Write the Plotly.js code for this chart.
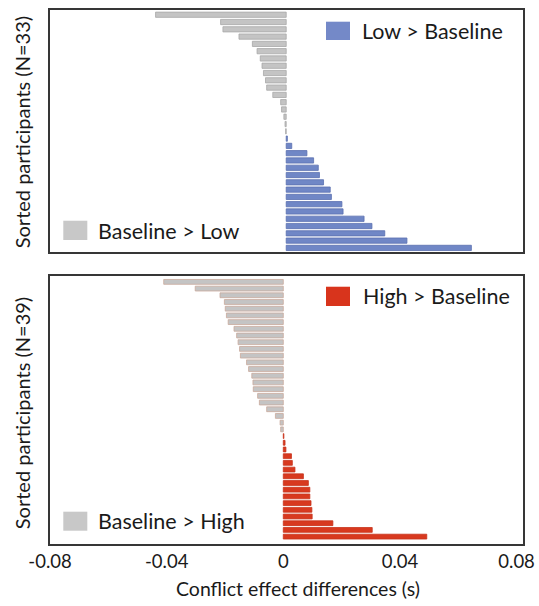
<!DOCTYPE html>
<html>
<head>
<meta charset="utf-8">
<script src="https://cdn.plot.ly/plotly-3.0.1.min.js"></script>
<style>html,body{margin:0;padding:0;background:#fff;}#chart{width:539px;height:606px;}</style>
</head>
<body>
<div id="chart"></div>
<script>
// Sorted conflict-effect differences (s), top to bottom
const lowDiff = [-0.0448, -0.0225, -0.0217, -0.0162, -0.0116, -0.0100, -0.0089, -0.0083, -0.0078, -0.0071,
  -0.0067, -0.0046, -0.0019, -0.0016, -0.0008, -0.0004, -0.0002, 0.0004, 0.0019, 0.0071,
  0.0094, 0.0110, 0.0114, 0.0128, 0.0151, 0.0155, 0.0191, 0.0195, 0.0267, 0.0294,
  0.0338, 0.0414, 0.0635];
const highDiff = [-0.0410, -0.0302, -0.0217, -0.0202, -0.0199, -0.0195, -0.0189, -0.0169, -0.0160, -0.0155,
  -0.0150, -0.0147, -0.0126, -0.0119, -0.0108, -0.0104, -0.0103, -0.0088, -0.0082, -0.0057,
  -0.0027, -0.0011, -0.0009, 0.0002, 0.0006, 0.0009, 0.0028, 0.0031, 0.0040, 0.0069,
  0.0086, 0.0091, 0.0091, 0.0095, 0.0098, 0.0099, 0.0170, 0.0305, 0.0492];
const tickVals = [-0.08, -0.04, 0, 0.04, 0.08];
const tickText = ['-0.08', '-0.04', '0', '0.04', '0.08'];
const lowLabels = ['Low > Baseline', 'Baseline > Low'];
const highLabels = ['High > Baseline', 'Baseline > High'];
const yTitles = ['Sorted participants (N=33)', 'Sorted participants (N=39)'];
const xTitle = 'Conflict effect differences (s)';

const FONT = 'Lato, "Open Sans", sans-serif';
const gray = '#c4c4c4', blue = '#7087c6', red = '#d8391f';
const TXT = '#1a1a1a';

const rankOf = arr => arr.map((_, i) => i + 1);

const topTrace = {
  type: 'bar', orientation: 'h', x: lowDiff, y: rankOf(lowDiff), xaxis: 'x2', yaxis: 'y2',
  width: 0.72,
  marker: {color: lowDiff.map(v => v > 0 ? blue : gray),
           line: {color: lowDiff.map(v => v > 0 ? '#5a70b0' : '#a8a8a8'), width: 0.8}},
  hoverinfo: 'x', showlegend: false
};
const botTrace = {
  type: 'bar', orientation: 'h', x: highDiff, y: rankOf(highDiff), xaxis: 'x', yaxis: 'y',
  width: 0.72,
  marker: {color: highDiff.map(v => v > 0 ? red : gray),
           line: {color: highDiff.map(v => v > 0 ? '#c8341c' : '#c9aa9c'), width: 0.8}},
  hoverinfo: 'x', showlegend: false
};

const frame = {showline: true, mirror: true, linecolor: '#363636', linewidth: 1.6,
  showgrid: false, zeroline: false, ticks: ''};

const layout = {
  width: 539, height: 606,
  margin: {l: 50, r: 16, t: 10, b: 62},
  paper_bgcolor: '#fff', plot_bgcolor: '#fff',
  font: {family: FONT, color: TXT, size: 18},
  xaxis: Object.assign({}, frame, {
    domain: [0, 1], anchor: 'y', range: [-0.0800, 0.0822],
    tickvals: tickVals, ticktext: tickText, tickfont: {family: FONT, size: 18.5, color: TXT}
  }),
  yaxis: Object.assign({}, frame, {
    domain: [0, 0.5028], anchor: 'x', range: [40.1, 0.05], showticklabels: false
  }),
  xaxis2: Object.assign({}, frame, {
    domain: [0, 1], anchor: 'y2', range: [-0.0810, 0.0812], showticklabels: false
  }),
  yaxis2: Object.assign({}, frame, {
    domain: [0.5463, 1], anchor: 'x2', range: [33.6, 0.35], showticklabels: false
  }),
  shapes: [
    {type: 'rect', xref: 'paper', yref: 'paper', x0: 0.5835, x1: 0.6342, y0: 0.9438, y1: 0.9781, fillcolor: '#7489c8', line: {width: 0}},
    {type: 'rect', xref: 'paper', yref: 'paper', x0: 0.0281, x1: 0.0789, y0: 0.5693, y1: 0.6054, fillcolor: '#c8c8c8', line: {width: 0}},
    {type: 'rect', xref: 'paper', yref: 'paper', x0: 0.5835, x1: 0.6342, y0: 0.4457, y1: 0.4818, fillcolor: '#d8341c', line: {width: 0}},
    {type: 'rect', xref: 'paper', yref: 'paper', x0: 0.0281, x1: 0.0789, y0: 0.0249, y1: 0.0605, fillcolor: '#c8c8c8', line: {width: 0}}
  ],
  annotations: [
    {xref: 'paper', yref: 'paper', x: 0.655, y: 0.9607, xanchor: 'left', yanchor: 'middle', text: lowLabels[0], showarrow: false, font: {family: FONT, size: 21.5, color: TXT}},
    {xref: 'paper', yref: 'paper', x: 0.098, y: 0.5861, xanchor: 'left', yanchor: 'middle', text: lowLabels[1], showarrow: false, font: {family: FONT, size: 21.5, color: TXT}},
    {xref: 'paper', yref: 'paper', x: 0.657, y: 0.4644, xanchor: 'left', yanchor: 'middle', text: highLabels[0], showarrow: false, font: {family: FONT, size: 21.5, color: TXT}},
    {xref: 'paper', yref: 'paper', x: 0.098, y: 0.0431, xanchor: 'left', yanchor: 'middle', text: highLabels[1], showarrow: false, font: {family: FONT, size: 21.5, color: TXT}},
    {xref: 'paper', yref: 'paper', x: -0.0592, y: 0.771, xanchor: 'center', yanchor: 'middle', textangle: -90, text: yTitles[0], showarrow: false, font: {family: FONT, size: 20, color: TXT}},
    {xref: 'paper', yref: 'paper', x: -0.0592, y: 0.245, xanchor: 'center', yanchor: 'middle', textangle: -90, text: yTitles[1], showarrow: false, font: {family: FONT, size: 20, color: TXT}},
    {xref: 'paper', yref: 'paper', x: 0.524, y: -0.0824, xanchor: 'center', yanchor: 'middle', text: xTitle, showarrow: false, font: {family: FONT, size: 19.5, color: TXT}}
  ]
};

Plotly.newPlot('chart', [topTrace, botTrace], layout, {displayModeBar: false, staticPlot: true});
</script>
</body>
</html>
